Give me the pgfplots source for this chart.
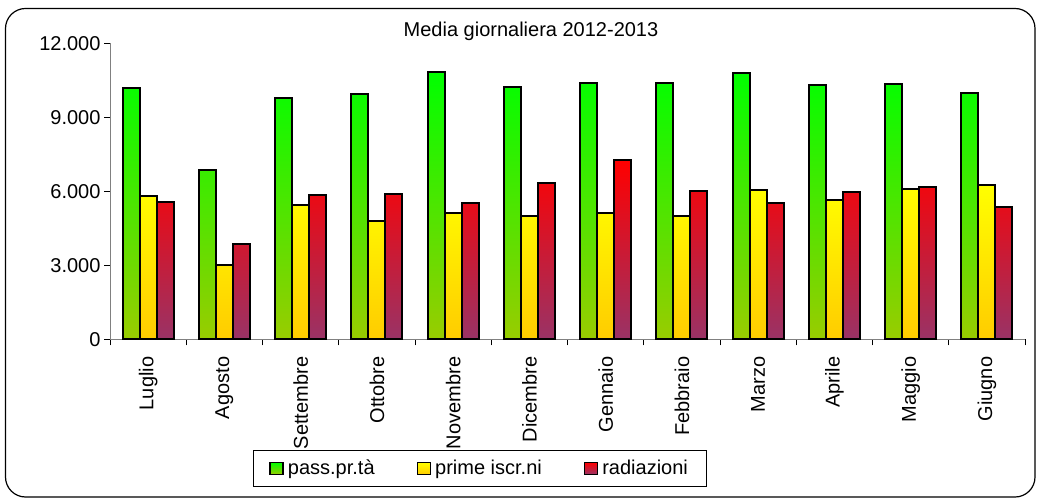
\documentclass[border=0pt]{standalone}
\usepackage{fontspec}
\setmainfont{Liberation Sans}
\usepackage{pgfplots}
\pgfplotsset{compat=1.18}

\definecolor{gtop}{HTML}{00FF00}
\definecolor{gbot}{HTML}{99CC00}
\definecolor{ytop}{HTML}{FFFF00}
\definecolor{ybot}{HTML}{FFCC00}
\definecolor{rtop}{HTML}{FF0000}
\definecolor{rbot}{HTML}{993366}
\definecolor{axgray}{HTML}{808080}

\newcommand{\chfont}{\fontsize{20}{24}\selectfont}

\begin{document}
\begin{tikzpicture}[x=1pt,y=1pt]
\path (0,0) rectangle (1040,-502);
\draw[rounded corners=20pt, line width=1.2pt] (5.5,-8.5) rectangle (1035,-497);
\node[font=\chfont] at (531,-31) {Media giornaliera 2012-2013};

\begin{axis}[
    at={(110pt,-339.3pt)}, anchor=south west,
    scale only axis,
    width=915pt, height=296pt,
    xmin=-0.5, xmax=11.5,
    ymin=0, ymax=12000,
    axis lines*=left,
    axis line style={draw=axgray, line width=1pt},
    ybar=0pt, bar width=17pt,
    scaled y ticks=false,
    ytick={0,3000,6000,9000,12000},
    yticklabels={0,3.000,6.000,9.000,12.000},
    xtick={-0.5,0.5,...,11.5},
    x tick label as interval,
    xticklabels={Luglio,Agosto,Settembre,Ottobre,Novembre,Dicembre,Gennaio,Febbraio,Marzo,Aprile,Maggio,Giugno},
    tick align=outside,
    major tick length=6pt,
    tick style={draw=black, line width=0.8pt},
    ticklabel style={font=\chfont},
    xticklabel style={rotate=90, anchor=east, xshift=-8pt},
    legend columns=3,
    legend style={at={(0.404,-0.436)}, anchor=center, font=\chfont,
        draw=black, line width=0.8pt, inner xsep=16pt, inner ysep=8pt,
        /tikz/every odd column/.append style={column sep=2pt},
        /tikz/every even column/.append style={column sep=40pt}},
    mybar/.style={draw=black, line width=2pt, shading=axis,
        legend image code/.code={\draw[##1, line width=1.5pt] (0pt,-6pt) rectangle (13pt,6pt);}},
]
\addplot[mybar, top color=gtop, bottom color=gbot] coordinates {
(0,10200) (1,6850) (2,9770) (3,9930) (4,10840) (5,10230)
(6,10390) (7,10380) (8,10810) (9,10300) (10,10360) (11,9970)};
\addplot[mybar, top color=ytop, bottom color=ybot] coordinates {
(0,5820) (1,3000) (2,5460) (3,4810) (4,5120) (5,5000)
(6,5120) (7,5000) (8,6040) (9,5650) (10,6090) (11,6240)};
\addplot[mybar, top color=rtop, bottom color=rbot] coordinates {
(0,5580) (1,3860) (2,5850) (3,5880) (4,5530) (5,6350)
(6,7260) (7,6010) (8,5540) (9,5980) (10,6190) (11,5350)};
\legend{pass.pr.tà,prime iscr.ni,radiazioni}
\end{axis}
\end{tikzpicture}
\end{document}
